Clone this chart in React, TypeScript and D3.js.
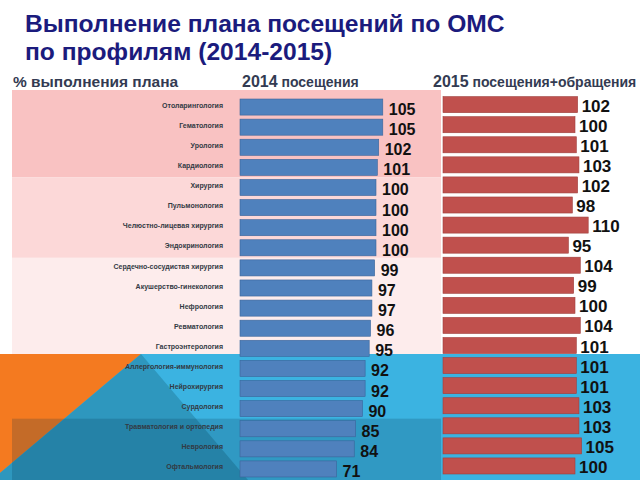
import React from "react";
import * as d3 from "d3";

const categories = [
  "Отоларингология",
  "Гематология",
  "Урология",
  "Кардиология",
  "Хирургия",
  "Пульмонология",
  "Челюстно-лицевая хирургия",
  "Эндокринология",
  "Сердечно-сосудистая хирургия",
  "Акушерство-гинекология",
  "Нефрология",
  "Ревматология",
  "Гастроэнтерология",
  "Аллергология-иммунология",
  "Нейрохирургия",
  "Сурдология",
  "Травматология и ортопедия",
  "Неврология",
  "Офтальмология",
];
const values2014 = [105, 105, 102, 101, 100, 100, 100, 100, 99, 97, 97, 96, 95, 92, 92, 90, 85, 84, 71];
const values2015 = [102, 100, 101, 103, 102, 98, 110, 95, 104, 99, 100, 104, 101, 101, 101, 103, 103, 105, 100];

const titleLines = ["Выполнение плана посещений по ОМС", "по профилям (2014-2015)"];
const headerPlan = "% выполнения плана";
const header2014 = ["2014", " посещения"];
const header2015 = ["2015", " посещения+обращения"];

const FONT = "'Liberation Sans', Arial, sans-serif";

export default function App() {
  const W = 640, H = 480;
  const yBlue = d3.scaleBand<string>().domain(categories).range([97, 479]).paddingInner(0.2).paddingOuter(0.1);
  const yRed = d3.scaleBand<string>().domain(categories).range([94.6, 476]).paddingInner(0.2).paddingOuter(0.1);
  const xBlue = d3.scaleLinear().domain([0, 110]).range([240, 240 + 149.6]);
  const xRed = d3.scaleLinear().domain([0, 110]).range([443, 443 + 145.2]);
  const step = yBlue.step();
  const gap = (step * yBlue.paddingInner()) / 2;
  const rowTop = (i: number) => (yBlue(categories[i]) as number) - gap;
  const bgLeft = 12, bgRight = 441;

  const band1Top = 90;
  const band2Top = rowTop(4);
  const band3Top = rowTop(8);
  const blueTop = 354;
  const darkTop = rowTop(16);
  const headColor = "#333b52";

  return (
    <div style={{ position: "fixed", left: 0, top: 0 }}>
      <svg width={W} height={H} style={{ display: "block", fontFamily: FONT }}>
        <rect x={0} y={0} width={W} height={H} fill="#ffffff" />
        {/* pink group bands */}
        <rect x={bgLeft} y={band1Top} width={bgRight - bgLeft} height={band2Top - band1Top} fill="#f9c2c2" />
        <rect x={bgLeft} y={band2Top} width={bgRight - bgLeft} height={band3Top - band2Top} fill="#fcd8d8" />
        <rect x={bgLeft} y={band3Top} width={bgRight - bgLeft} height={blueTop - band3Top} fill="#fdecec" />
        {/* blue decoration */}
        <rect x={0} y={blueTop} width={W} height={H - blueTop} fill="#3bb3e1" />
        <polygon points={`0,${blueTop} 141,${blueTop} 0,473`} fill="#f47a20" />
        <polygon points={`141,${blueTop} 248,${H} -8,${H} 0,473`} fill="#2e97be" />
        <rect x={bgLeft} y={darkTop} width={bgRight - bgLeft} height={H - darkTop} fill="#06304a" fillOpacity={0.2} />

        {/* title */}
        {titleLines.map((t, i) => (
          <text key={t} x={25} y={32 + i * 28} fontSize={24.6} fontWeight="bold" fill="#1b1b7d">
            {t}
          </text>
        ))}
        {/* headers */}
        <text x={13} y={87} fontSize={15.5} fontWeight="bold" fill={headColor}>{headerPlan}</text>
        <text x={242} y={87} fontSize={16} fontWeight="bold" fill={headColor}>
          <tspan>{header2014[0]}</tspan>
          <tspan fontSize={14}>{header2014[1]}</tspan>
        </text>
        <text x={433} y={87} fontSize={16} fontWeight="bold" fill={headColor}>
          <tspan>{header2015[0]}</tspan>
          <tspan fontSize={14}>{header2015[1]}</tspan>
        </text>

        {/* category labels */}
        {categories.map((c) => (
          <text
            key={"l" + c}
            x={223}
            y={(yRed(c) as number) + yRed.bandwidth() / 2 + 1.5}
            fontSize={7}
            fontWeight="bold"
            textAnchor="end"
            dominantBaseline="middle"
            fill="#333a44"
          >
            {c}
          </text>
        ))}

        {/* 2014 bars */}
        {categories.map((c, i) => (
          <g key={"b" + c}>
            <rect
              x={xBlue(0)}
              y={yBlue(c)}
              width={xBlue(values2014[i]) - xBlue(0)}
              height={yBlue.bandwidth()}
              fill="#4f81bd"
              stroke="#3a659a"
              strokeWidth={0.6}
            />
            <text
              x={xBlue(values2014[i]) + 6}
              y={(yBlue(c) as number) + yBlue.bandwidth() / 2 + 8}
              fontSize={16}
              fontWeight="bold"
              fill="#111111"
            >
              {values2014[i]}
            </text>
          </g>
        ))}

        {/* 2015 bars */}
        {categories.map((c, i) => (
          <g key={"r" + c}>
            <rect
              x={xRed(0)}
              y={yRed(c)}
              width={xRed(values2015[i]) - xRed(0)}
              height={yRed.bandwidth()}
              fill="#c0504d"
              stroke="#9e3f3c"
              strokeWidth={0.6}
            />
            <text
              x={xRed(values2015[i]) + 4}
              y={(yRed(c) as number) + yRed.bandwidth() / 2 + 7}
              fontSize={17}
              fontWeight="bold"
              fill="#111111"
            >
              {values2015[i]}
            </text>
          </g>
        ))}
      </svg>
    </div>
  );
}
